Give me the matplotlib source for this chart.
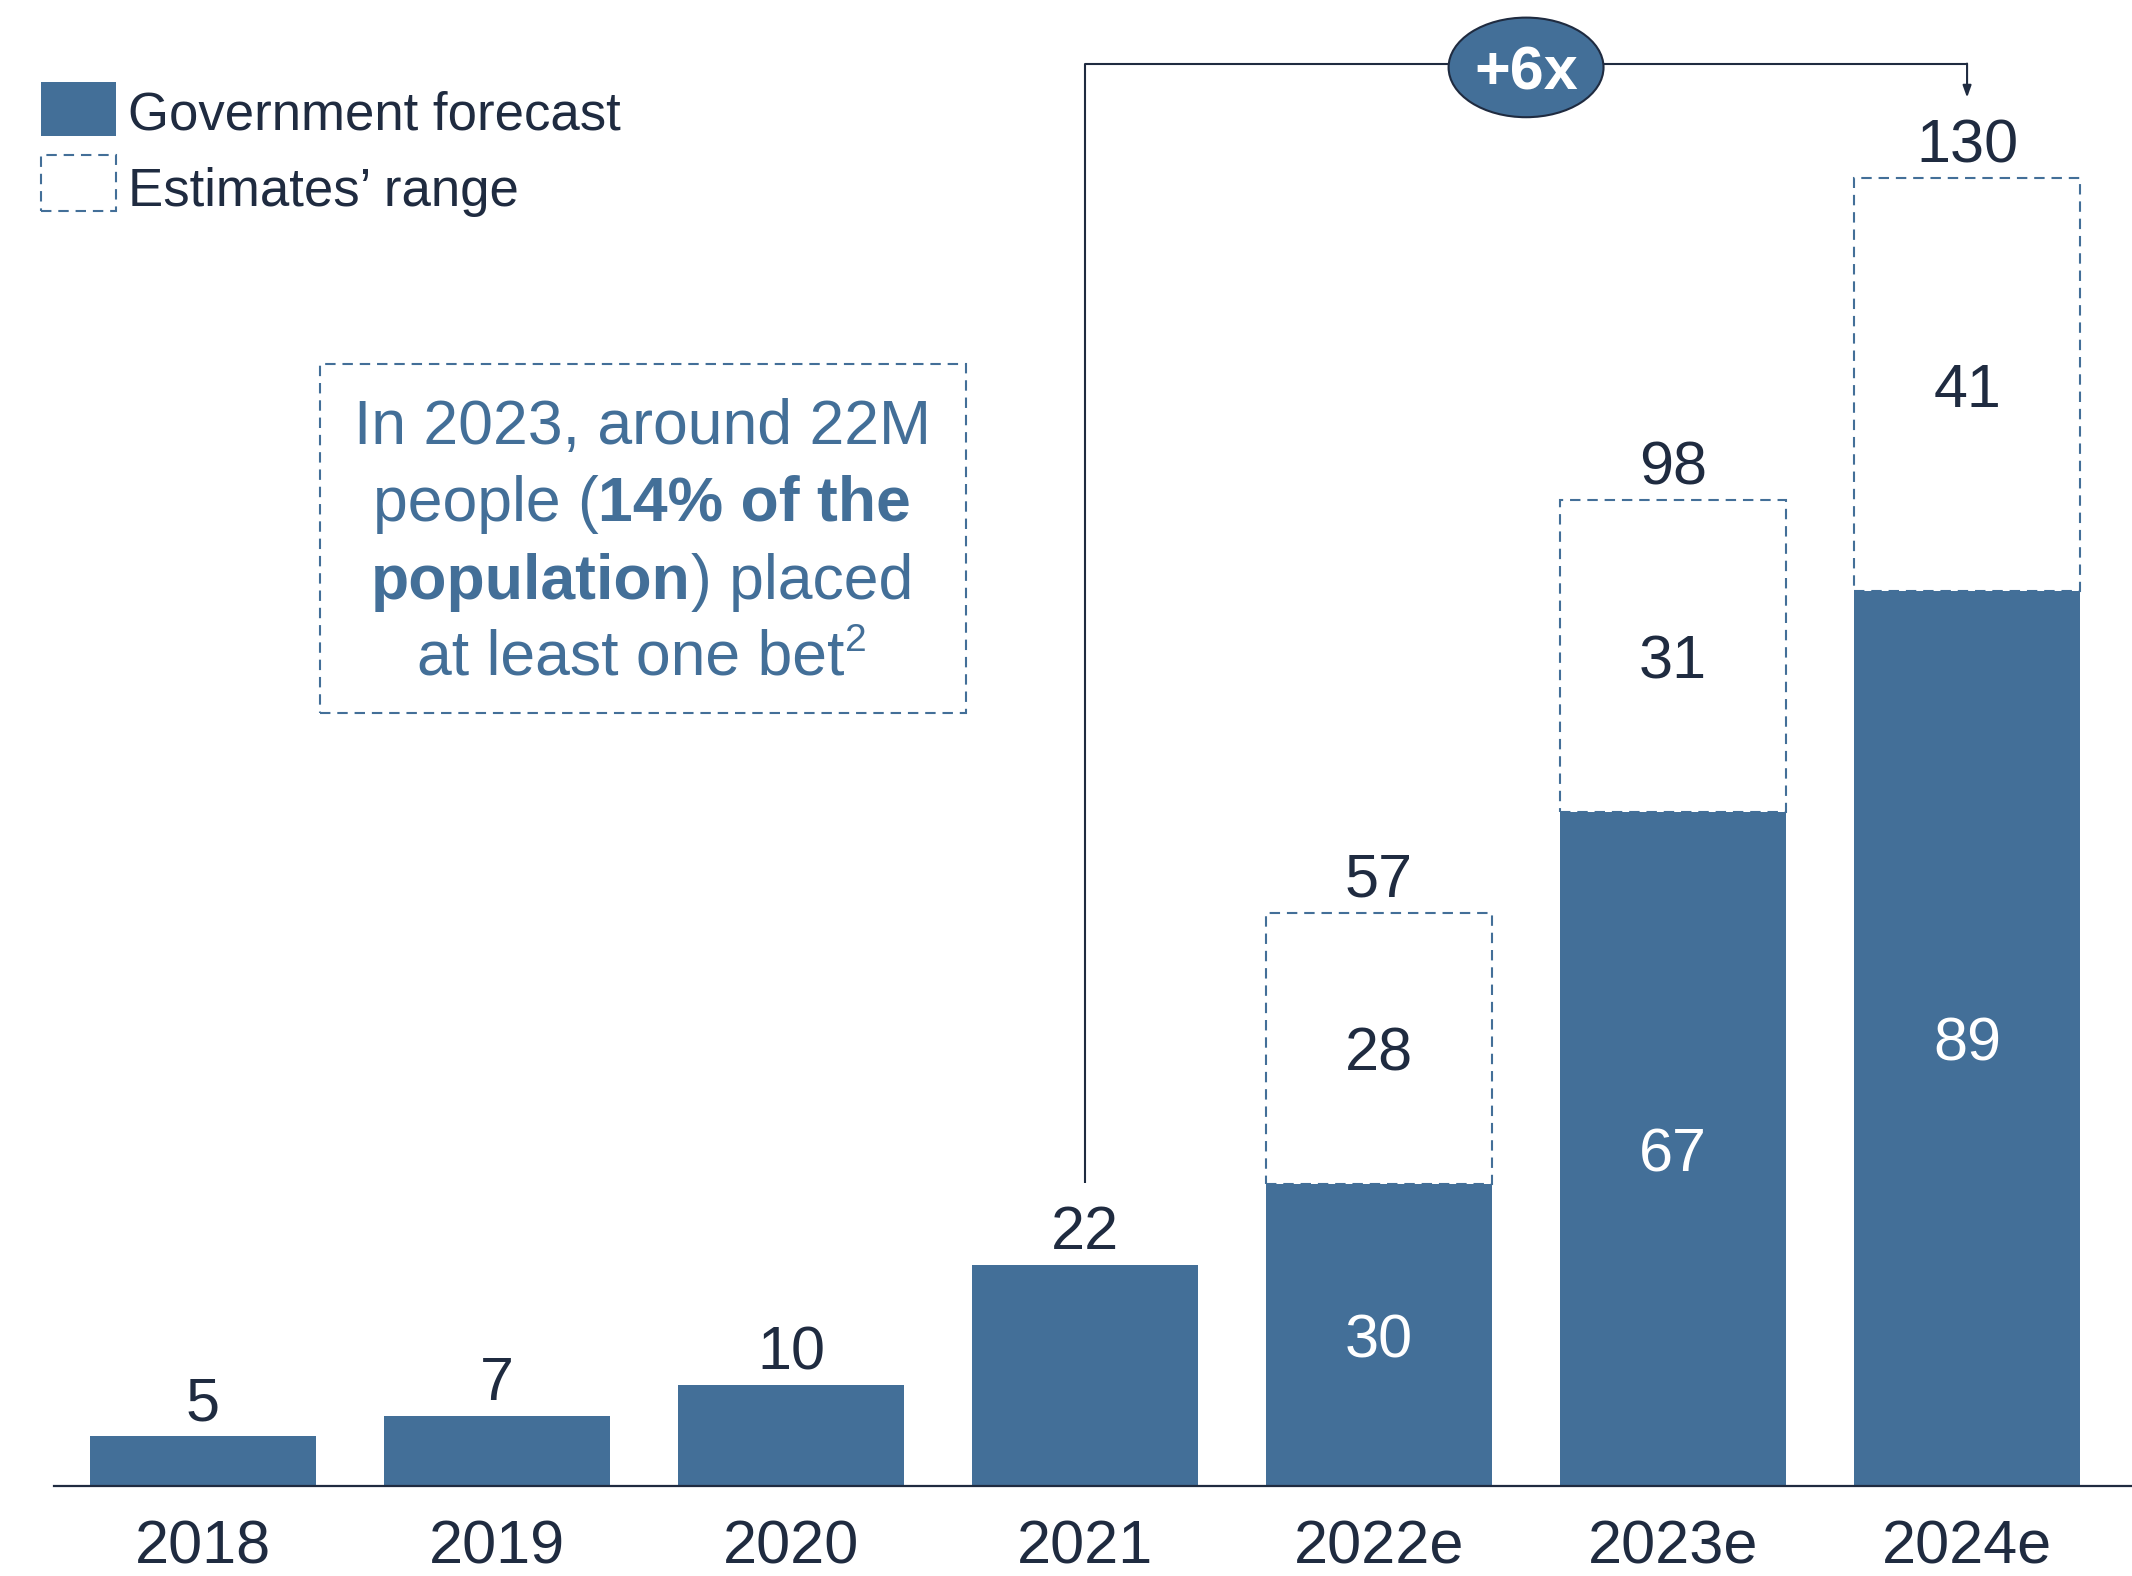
import matplotlib
matplotlib.use("Agg")
import matplotlib.pyplot as plt
from matplotlib.patches import Rectangle, Ellipse

# ---- data ----
years = ["2018", "2019", "2020", "2021", "2022e", "2023e", "2024e"]
gov_forecast = [5, 7, 10, 22, 30, 67, 89]
est_upper = [None, None, None, None, 57, 98, 130]
est_range = [None, None, None, None, 28, 31, 41]
legend_labels = ["Government forecast", "Estimates\u2019 range"]
growth_label = "+6x"

BLUE = "#436F98"
NAVY = "#1F2B40"
FONT = "Liberation Sans"
plt.rcParams["font.family"] = [FONT, "DejaVu Sans"]

W, H = 2132, 1576
fig = plt.figure(figsize=(W / 100, H / 100), dpi=100)

def fx(x):
    return x / W

def fy(y):
    return 1 - y / H

ax = fig.add_axes([fx(54), fy(1486), fx(2132) - fx(54), fy(0) - fy(1486)])
ax.set_xlim(-0.507, 6.561)
ax.set_ylim(0, 147.7)
for s in ["top", "right", "left"]:
    ax.spines[s].set_visible(False)
ax.spines["bottom"].set_color(NAVY)
ax.spines["bottom"].set_linewidth(1.6)
ax.set_yticks([])
xs = list(range(len(years)))
ax.set_xticks(xs)
ax.set_xticklabels(years, fontsize=44, color=NAVY)
ax.tick_params(axis="x", length=0, pad=24)

bw = 0.77
dash = (0, (5, 3.3))
dy = -0.7  # vertical nudge for label centring
ax.bar(xs, gov_forecast, width=bw, color=BLUE, zorder=2)

for i, v in enumerate(gov_forecast):
    if est_upper[i] is None:
        ax.text(i, v + 3.8 + dy, str(v), ha="center", va="center", fontsize=44, color=NAVY)
    else:
        ax.text(i, v / 2 + dy, str(v), ha="center", va="center", fontsize=44, color="white")
        top = est_upper[i]
        ax.add_patch(Rectangle((i - bw / 2, v), bw, top - v, facecolor="white",
                               edgecolor=BLUE, linewidth=1.5, linestyle=dash, zorder=3))
        ax.text(i, (v + top) / 2 + dy, str(est_range[i]), ha="center", va="center",
                fontsize=44, color=NAVY, zorder=4)
        ax.text(i, top + 3.8 + dy, str(top), ha="center", va="center", fontsize=44, color=NAVY)

# ---- growth bracket ----
yb = 141.3
ax.plot([3, 3, 6], [30.1, yb, yb], color=NAVY, lw=1.5, solid_capstyle="butt", zorder=5,
        clip_on=False)
ax.annotate("", xy=(6, 138.0), xytext=(6, yb + 0.08),
            arrowprops=dict(arrowstyle="-|>,head_length=0.7,head_width=0.25",
                            color=NAVY, lw=1.5, shrinkA=0, shrinkB=0), zorder=5)
ax.add_patch(Ellipse((4.5, 141.0), 0.527, 9.9, facecolor=BLUE, edgecolor=NAVY,
                     lw=1.5, zorder=6, clip_on=False))
ax.text(4.5, 141.0 + dy, growth_label, ha="center", va="center", fontsize=44,
        fontweight="bold", color="white", zorder=7)

# ---- legend ----
fig.patches.append(Rectangle((fx(41), fy(136)), fx(116) - fx(41), fy(82) - fy(136),
                             transform=fig.transFigure, facecolor=BLUE, edgecolor="none"))
fig.patches.append(Rectangle((fx(41), fy(211)), fx(116) - fx(41), fy(155) - fy(211),
                             transform=fig.transFigure, facecolor="white", edgecolor=BLUE,
                             lw=1.5, linestyle=dash))
fig.text(fx(128), fy(116), legend_labels[0], fontsize=38, color=NAVY, va="center", ha="left")
fig.text(fx(128), fy(192), legend_labels[1], fontsize=38, color=NAVY, va="center", ha="left")

# ---- callout box ----
fig.patches.append(Rectangle((fx(320), fy(713)), fx(966) - fx(320), fy(364) - fy(713),
                             transform=fig.transFigure, facecolor="none", edgecolor=BLUE,
                             lw=1.5, linestyle=dash))

# (text, weight, fontsize, raise in px)
lines = [
    [("In 2023, around 22M", "normal", 45, 0)],
    [("people (", "normal", 45, 0), ("14% of the", "bold", 45, 0)],
    [("population", "bold", 45, 0), (") placed", "normal", 45, 0)],
    [("at least one bet", "normal", 45, 0), ("2", "normal", 28, 17)],
]
line_y = [428, 504, 582, 658]
fig.canvas.draw()
r = fig.canvas.get_renderer()
for parts, yy in zip(lines, line_y):
    objs = []
    for txt, wt, fs, up in parts:
        t = fig.text(0, fy(yy - up), txt, fontsize=fs, fontweight=wt, color=BLUE,
                     va="center", ha="left")
        objs.append(t)
    widths = [t.get_window_extent(r).width for t in objs]
    total = sum(widths)
    x0 = 642 - total / 2
    for t, wdt in zip(objs, widths):
        t.set_x(fx(x0))
        x0 += wdt

fig.savefig("out.png", dpi=100)
